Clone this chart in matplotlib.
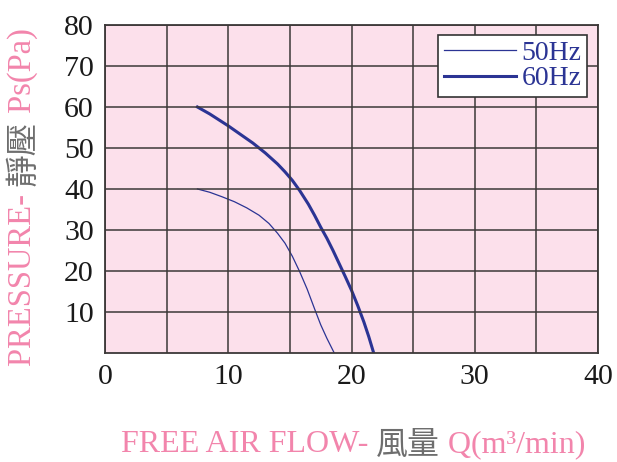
import matplotlib
matplotlib.use('Agg')
import matplotlib.pyplot as plt

# Fan curve data
# -----------------------------------

flow_50 = [7.5, 8.5, 9.5, 10.5, 11.5, 12.5, 13.3, 14.0, 14.6, 15.2, 15.8,
           16.4, 17.0, 17.5, 18.0, 18.6]
pres_50 = [40.0, 39.2, 38.1, 36.9, 35.4, 33.6, 31.6, 29.2, 26.8, 23.6, 19.8,
           15.6, 10.8, 6.9, 3.6, 0.0]

flow_60 = [7.5, 8.5, 10.0, 11.0, 12.0, 13.0, 14.0, 14.6, 15.2, 15.8, 16.5,
           17.0, 17.5, 18.0, 18.5, 19.0, 19.5, 20.0, 20.5, 21.0, 21.4, 21.8]
pres_60 = [60.0, 58.3, 55.4, 53.3, 51.2, 48.8, 46.1, 44.2, 42.1, 39.6, 36.3,
           33.6, 30.7, 28.0, 25.0, 21.8, 18.6, 15.3, 11.6, 7.6, 4.0, 0.0]

series_labels = ['50Hz', '60Hz']
xticks = [0, 10, 20, 30, 40]
yticks = [10, 20, 30, 40, 50, 60, 70, 80]

# styles
navy = '#2b3494'
pink = '#f285ac'
gray = '#6e6e6e'
serif = ['Liberation Serif', 'DejaVu Serif']
cjk = ['Noto Sans CJK TC', 'DejaVu Sans']


def mixed_text(fig, pieces, center, rotation=0, size=20):
    """Draw text pieces with their own color/font, centred at pixel center."""
    renderer = fig.canvas.get_renderer()
    texts = []
    for s, color, family in pieces:
        t = fig.text(0, 0, s, color=color, family=family, size=size,
                     rotation=rotation, ha='left', va='center',
                     rotation_mode='anchor', transform=None)
        texts.append(t)
    sizes = []
    for t in texts:
        bb = t.get_window_extent(renderer)
        sizes.append(bb.width if rotation == 0 else bb.height)
    total = sum(sizes)
    pos = -total / 2
    for t, w in zip(texts, sizes):
        if rotation == 0:
            t.set_position((center[0] + pos, center[1]))
        else:
            t.set_position((center[0], center[1] + pos))
        pos += w


fig = plt.figure(figsize=(6.17, 4.62), dpi=100)
ax = fig.add_axes([105/617, 1-353/462, (598-105)/617, (353-25)/462])
ax.set_facecolor('#fce0eb')

ax.plot(flow_50, pres_50, color=navy, lw=0.9, label=series_labels[0])
ax.plot(flow_60, pres_60, color=navy, lw=2.2, label=series_labels[1])

ax.set_xlim(0, 40)
ax.set_ylim(0, 80)
ax.set_xticks(xticks)
ax.set_yticks(yticks)
ax.set_xticks(range(5, 40, 10), minor=True)
ax.grid(which='both', color='#3c3838', lw=1.1)
ax.set_axisbelow(False)
for sp in ax.spines.values():
    sp.set_color('#3c3838')
    sp.set_linewidth(1.3)
ax.tick_params(which='both', length=0, labelsize=21.5, labelcolor='#1a1a1a',
               pad=8)
for lab in ax.get_xticklabels() + ax.get_yticklabels():
    lab.set_family(serif)

leg = ax.legend(loc='upper right', bbox_to_anchor=(0.978, 0.97),
                fancybox=False, framealpha=1, edgecolor='#333333',
                prop=dict(family=serif, size=20), handlelength=2.6,
                handletextpad=0.2, borderpad=0.2, labelspacing=0.0,
                borderaxespad=0)
leg.get_frame().set_linewidth(1.2)
for t in leg.get_texts():
    t.set_color(navy)

fig.canvas.draw()
H = 462
mixed_text(fig, [('FREE AIR FLOW- ', pink, serif), ('風量', gray, cjk),
                 (' Q(m³/min)', pink, serif)], (353, H - 445), size=23)
mixed_text(fig, [('PRESSURE- ', pink, serif), ('靜壓', gray, cjk),
                 (' Ps(Pa)', pink, serif)], (23, H - 197), rotation=90,
           size=23.5)

fig.savefig('out.png', dpi=100)
